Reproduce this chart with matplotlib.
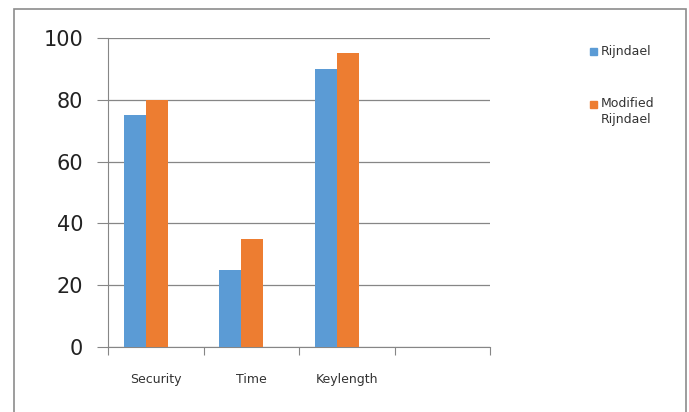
import matplotlib
matplotlib.use("Agg")
import matplotlib.pyplot as plt
from matplotlib.patches import Rectangle
import numpy as np

categories = ["Security", "Time", "Keylength", ""]
rijndael = [75, 25, 90]
modified = [80, 35, 95]
series_names = ["Rijndael", "Modified\nRijndael"]
y_ticks = [0, 20, 40, 60, 80, 100]

BLUE = "#5B9BD5"
ORANGE = "#ED7D31"
GRID = "#868686"

W, H = 689, 412
fig = plt.figure(figsize=(W / 100, H / 100), dpi=100)
fig.patch.set_facecolor("white")

# chart frame (bottom edge falls outside the image)
fig.add_artist(Rectangle((14 / W, -0.05), (686 - 14) / W, 1.05 - 9 / H,
                         transform=fig.transFigure, fill=False,
                         edgecolor="#8c8c8c", linewidth=1.2))

ax = fig.add_axes([108 / W, 1 - 347 / H, (490 - 108) / W, (347 - 38) / H])

n = len(categories)
x = np.arange(n)
bw = 0.23
shift = -0.105
ax.bar(x[:3] + shift - bw / 2, rijndael, width=bw, color=BLUE, label=series_names[0], zorder=3)
ax.bar(x[:3] + shift + bw / 2, modified, width=bw, color=ORANGE, label=series_names[1], zorder=3)

ax.set_xlim(-0.5, n - 0.5)
ax.set_ylim(0, 100)
ax.set_yticks(y_ticks)
ax.set_yticklabels([str(v) for v in y_ticks], fontsize=15, color="#222222")
ax.yaxis.grid(True, color=GRID, linewidth=0.9, zorder=0)
ax.tick_params(axis="y", length=8, color=GRID, pad=10)

# category boundaries carry the tick marks, labels sit at the centres
ax.set_xticks(np.arange(n + 1) - 0.5)
ax.set_xticklabels([])
ax.set_xticks(x, minor=True)
ax.set_xticklabels(categories, minor=True, fontsize=9, color="#333333")
ax.tick_params(axis="x", which="major", length=6, color=GRID, direction="out")
ax.tick_params(axis="x", which="minor", length=0, pad=19)

for side in ["top", "right"]:
    ax.spines[side].set_visible(False)
ax.spines["left"].set_color(GRID)
ax.spines["bottom"].set_color(GRID)

# legend drawn by hand to mimic the spreadsheet layout
fig.add_artist(Rectangle((590 / W, 1 - 55 / H), 7 / W, 7 / H,
                         transform=fig.transFigure, color=BLUE))
fig.text(601 / W, 1 - 52 / H, "Rijndael", fontsize=9, color="#333333", va="center")
fig.add_artist(Rectangle((590 / W, 1 - 108 / H), 7 / W, 7 / H,
                         transform=fig.transFigure, color=ORANGE))
fig.text(601 / W, 1 - 97 / H, series_names[1], fontsize=9, color="#333333",
         va="top", linespacing=1.35)

fig.savefig("out.png", dpi=100)
